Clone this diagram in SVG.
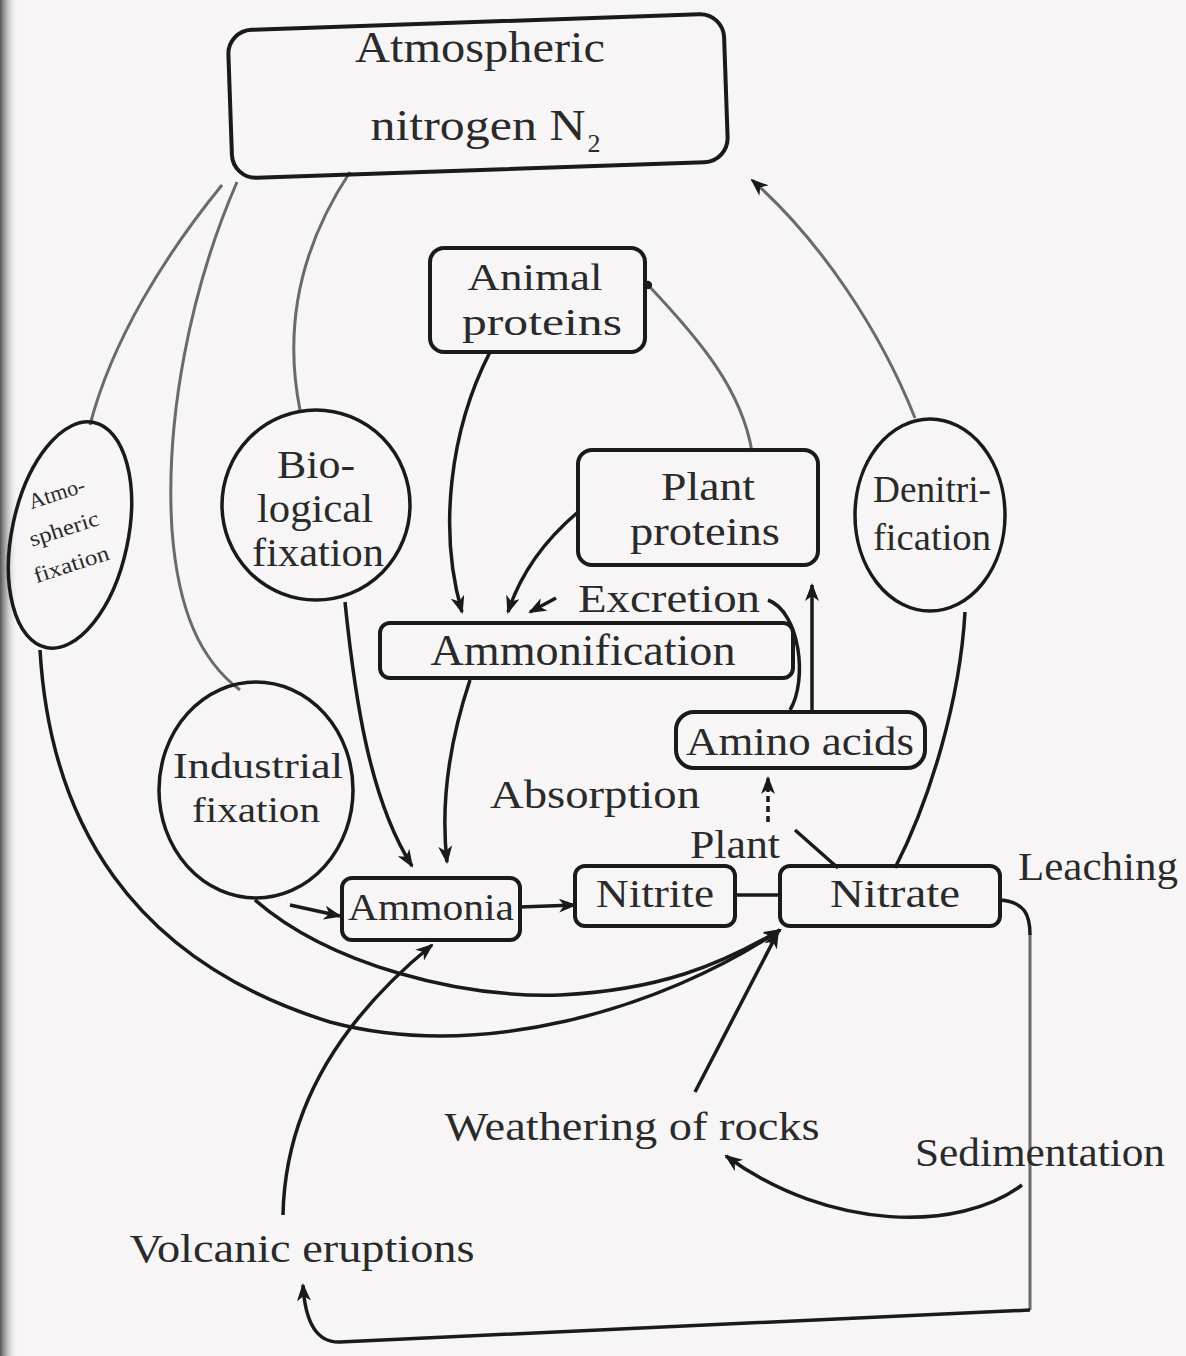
<svg xmlns="http://www.w3.org/2000/svg" width="1186" height="1356" viewBox="0 0 1186 1356">
<defs>
<marker id="ah" markerWidth="18" markerHeight="14" refX="16" refY="7" orient="auto" markerUnits="userSpaceOnUse"><path d="M0,0 L18,7 L0,14 L5,7 z" fill="#1a1a1a"/></marker>
<marker id="ahs" markerWidth="10" markerHeight="10" refX="5" refY="5" orient="auto" markerUnits="userSpaceOnUse"><circle cx="5" cy="5" r="4" fill="#1a1a1a"/></marker>
<linearGradient id="edge" x1="0" x2="1" y1="0" y2="0"><stop offset="0" stop-color="#555"/><stop offset="1" stop-color="#f7f5f5" stop-opacity="0"/></linearGradient>
<style>
.t{font-family:"Liberation Serif","Times New Roman",serif;fill:#2a2a2a;text-anchor:middle}
.box{fill:none;stroke:#1a1a1a;stroke-width:4}
.circ{fill:none;stroke:#1a1a1a;stroke-width:3.5}
.g{fill:none;stroke:#6a6a6a;stroke-width:3}
.k{fill:none;stroke:#1a1a1a;stroke-width:3.5}
</style>
</defs>
<rect width="1186" height="1356" fill="#f7f5f5"/>
<rect width="18" height="1356" fill="url(#edge)"/>

<g id="connectors">
<path class="g" d="M222,185 C165,255 112,340 90,425"/>
<path class="g" d="M237,182 C190,290 165,420 172,530 C178,610 200,660 240,690"/>
<path class="g" d="M350,172 C305,240 282,320 300,410"/>
<path class="g" d="M648,285 C700,340 742,390 752,452" marker-start="url(#ahs)"/>
<path class="g" d="M915,418 C880,330 820,240 752,180" marker-end="url(#ah)"/>
<path class="g" d="M1030,935 L1030,1310"/>
<path class="k" d="M40,650 C50,820 130,960 330,1022 C480,1062 660,1010 780,930" marker-end="url(#ah)"/>
<path class="k" d="M255,900 C330,965 460,998 560,995 C660,990 720,965 780,930" marker-end="url(#ah)"/>
<path class="k" d="M345,602 C355,700 370,800 412,866" marker-end="url(#ah)"/>
<path class="k" d="M290,905 L340,916" marker-end="url(#ah)"/>
<path class="k" d="M470,680 C450,740 440,800 447,862" marker-end="url(#ah)"/>
<path class="k" d="M490,352 C450,430 438,530 462,612" marker-end="url(#ah)"/>
<path class="k" d="M578,512 C545,540 520,575 508,612" marker-end="url(#ah)"/>
<path class="k" d="M556,598 L530,612" marker-end="url(#ah)"/>
<path class="k" d="M768,600 C800,612 808,680 790,710"/>
<path class="k" d="M812,712 L812,585" marker-end="url(#ah)"/>
<path class="k" d="M768,822 L768,778" stroke-dasharray="6,4" marker-end="url(#ah)"/>
<path class="k" d="M795,830 L838,868"/>
<path class="k" d="M895,868 C930,800 960,700 965,612"/>
<path class="k" d="M520,907 L575,905" marker-end="url(#ah)"/>
<path class="k" d="M735,895 L780,895"/>
<path class="k" d="M1000,900 C1025,902 1030,915 1030,935"/>
<path class="k" d="M1030,1310 L340,1342 C315,1343 305,1320 303,1285" marker-end="url(#ah)"/>
<path class="k" d="M1022,1185 C960,1232 830,1232 726,1156" marker-end="url(#ah)"/>
<path class="k" d="M695,1092 L778,932" marker-end="url(#ah)"/>
<path class="k" d="M283,1215 C285,1110 340,1020 432,945" marker-end="url(#ah)"/>
</g>

<g id="atmospheric-nitrogen">
<rect class="box" x="230" y="22" width="496" height="148" rx="24" transform="rotate(-2 478 96)"/>
<text class="t" x="480" y="62" font-size="44" textLength="250" lengthAdjust="spacingAndGlyphs">Atmospheric</text>
<text class="t" x="478" y="140" font-size="44" textLength="215" lengthAdjust="spacingAndGlyphs">nitrogen N</text>
<text class="t" x="594" y="152" font-size="26">2</text>
</g>

<g id="animal-proteins">
<rect class="box" x="430" y="248" width="215" height="104" rx="14"/>
<text class="t" x="535" y="290" font-size="38" textLength="135" lengthAdjust="spacingAndGlyphs">Animal</text>
<text class="t" x="542" y="335" font-size="38" textLength="160" lengthAdjust="spacingAndGlyphs">proteins</text>
</g>

<g id="plant-proteins">
<rect class="box" x="578" y="450" width="240" height="115" rx="14"/>
<text class="t" x="708" y="500" font-size="40" textLength="94" lengthAdjust="spacingAndGlyphs">Plant</text>
<text class="t" x="705" y="545" font-size="40" textLength="150" lengthAdjust="spacingAndGlyphs">proteins</text>
</g>

<g id="atmospheric-fixation">
<ellipse class="circ" cx="70" cy="535" rx="58" ry="115" transform="rotate(12 70 535)"/>
<g transform="rotate(-18 65 535)">
<text class="t" x="70" y="500" font-size="22" textLength="58" lengthAdjust="spacingAndGlyphs">Atmo-</text>
<text class="t" x="66" y="536" font-size="22" textLength="72" lengthAdjust="spacingAndGlyphs">spheric</text>
<text class="t" x="62" y="572" font-size="22" textLength="78" lengthAdjust="spacingAndGlyphs">fixation</text>
</g>
</g>

<g id="biological-fixation">
<ellipse class="circ" cx="316" cy="505" rx="94" ry="95"/>
<text class="t" x="316" y="478" font-size="40" textLength="78" lengthAdjust="spacingAndGlyphs">Bio-</text>
<text class="t" x="315" y="522" font-size="40" textLength="116" lengthAdjust="spacingAndGlyphs">logical</text>
<text class="t" x="318" y="566" font-size="40" textLength="132" lengthAdjust="spacingAndGlyphs">fixation</text>
</g>

<g id="industrial-fixation">
<ellipse class="circ" cx="256" cy="790" rx="97" ry="108"/>
<text class="t" x="258" y="778" font-size="36" textLength="170" lengthAdjust="spacingAndGlyphs">Industrial</text>
<text class="t" x="256" y="822" font-size="36" textLength="128" lengthAdjust="spacingAndGlyphs">fixation</text>
</g>

<g id="denitrification">
<ellipse class="circ" cx="930" cy="515" rx="75" ry="96"/>
<text class="t" x="932" y="502" font-size="38" textLength="118" lengthAdjust="spacingAndGlyphs">Denitri-</text>
<text class="t" x="932" y="550" font-size="38" textLength="118" lengthAdjust="spacingAndGlyphs">fication</text>
</g>

<g id="ammonification">
<rect class="box" x="380" y="623" width="413" height="55" rx="10"/>
<text class="t" x="583" y="665" font-size="44" textLength="305" lengthAdjust="spacingAndGlyphs">Ammonification</text>
</g>

<g id="amino-acids">
<rect class="box" x="676" y="712" width="249" height="56" rx="18"/>
<text class="t" x="800" y="755" font-size="40" textLength="228" lengthAdjust="spacingAndGlyphs">Amino acids</text>
</g>

<g id="ammonia">
<rect class="box" x="342" y="878" width="178" height="62" rx="10"/>
<text class="t" x="431" y="920" font-size="38" textLength="166" lengthAdjust="spacingAndGlyphs">Ammonia</text>
</g>

<g id="nitrite">
<rect class="box" x="575" y="866" width="160" height="60" rx="10"/>
<text class="t" x="655" y="907" font-size="40" textLength="118" lengthAdjust="spacingAndGlyphs">Nitrite</text>
</g>

<g id="nitrate">
<rect class="box" x="780" y="866" width="220" height="60" rx="10"/>
<text class="t" x="895" y="907" font-size="40" textLength="130" lengthAdjust="spacingAndGlyphs">Nitrate</text>
</g>

<g id="labels">
<text class="t" x="669" y="612" font-size="40" textLength="182" lengthAdjust="spacingAndGlyphs">Excretion</text>
<text class="t" x="595" y="808" font-size="40" textLength="210" lengthAdjust="spacingAndGlyphs">Absorption</text>
<text class="t" x="735" y="858" font-size="40" textLength="90" lengthAdjust="spacingAndGlyphs">Plant</text>
<text class="t" x="1098" y="880" font-size="40" textLength="160" lengthAdjust="spacingAndGlyphs">Leaching</text>
<text class="t" x="632" y="1140" font-size="40" textLength="375" lengthAdjust="spacingAndGlyphs">Weathering of rocks</text>
<text class="t" x="1040" y="1166" font-size="40" textLength="250" lengthAdjust="spacingAndGlyphs">Sedimentation</text>
<text class="t" x="302" y="1262" font-size="40" textLength="345" lengthAdjust="spacingAndGlyphs">Volcanic eruptions</text>
</g>
</svg>
